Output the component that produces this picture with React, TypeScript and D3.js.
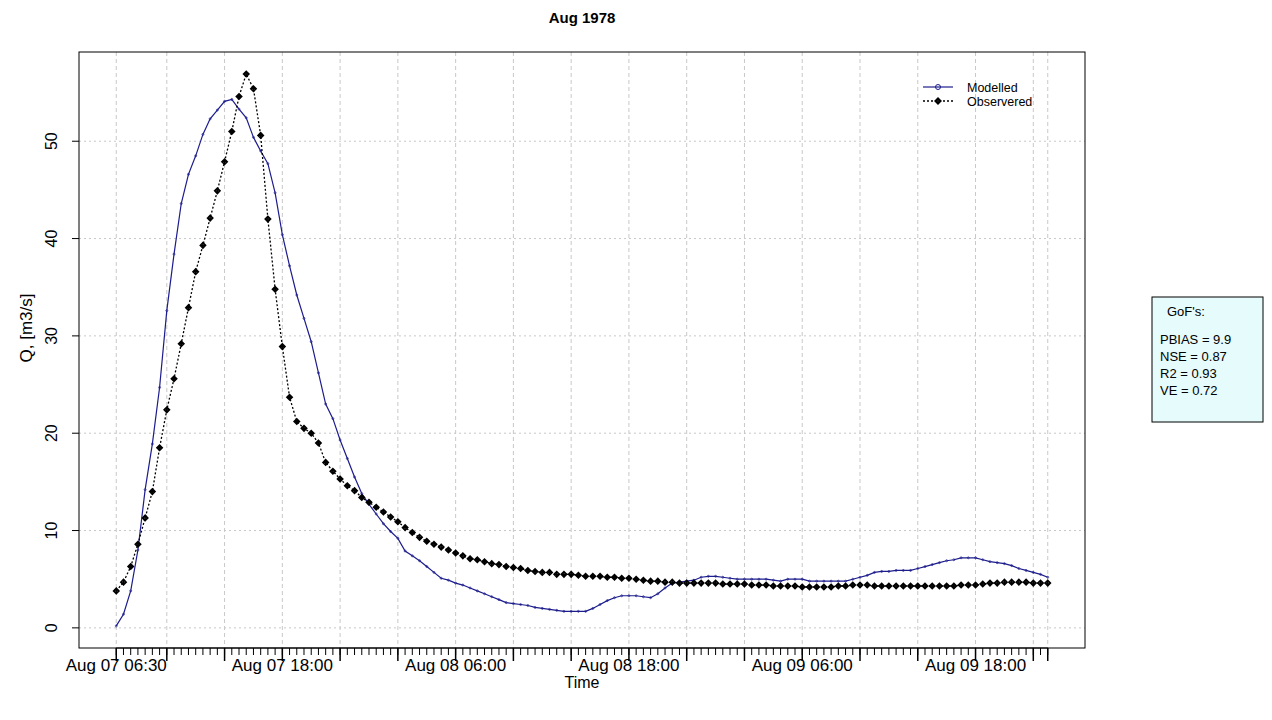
import React from "react";
import * as d3 from "d3";

// ---- data (30-min steps starting Aug 07 1978 06:30) ----
const startLabel = "1978-08-07T06:30:00Z";
const firstRegularTick = "1978-08-07T10:00:00Z";
const stepMinutes = 30;
const majorStepHours = 4;
const titleText = "Aug 1978";
const seriesNames = ["Modelled", "Observered"];
const gofLines = ["PBIAS = 9.9", "NSE = 0.87", "R2 = 0.93", "VE = 0.72"];
const yTicks = [0, 10, 20, 30, 40, 50];

const modelled = [
  0.2, 1.4, 3.8, 8.0, 14.2, 18.9, 24.7, 32.6, 38.4, 43.6,
  46.6, 48.5, 50.7, 52.3, 53.2, 54.1, 54.3, 53.3, 52.4, 50.4,
  49.0, 47.7, 44.7, 40.4, 37.2, 34.2, 31.8, 29.4, 26.2, 23.0,
  21.5, 19.3, 17.4, 15.5, 13.8, 12.7, 11.7, 10.7, 9.9, 9.2,
  7.9, 7.4, 6.9, 6.3, 5.7, 5.1, 4.9, 4.6, 4.4, 4.1,
  3.8, 3.5, 3.2, 2.9, 2.6, 2.5, 2.4, 2.3, 2.1, 2.0,
  1.9, 1.8, 1.7, 1.7, 1.7, 1.7, 2.0, 2.4, 2.8, 3.1,
  3.3, 3.3, 3.3, 3.2, 3.1, 3.5, 4.1, 4.6, 4.7, 4.8,
  4.9, 5.2, 5.3, 5.3, 5.2, 5.1, 5.0, 5.0, 5.0, 5.0,
  5.0, 4.9, 4.8, 5.0, 5.0, 5.0, 4.8, 4.8, 4.8, 4.8,
  4.8, 4.8, 5.0, 5.2, 5.4, 5.7, 5.8, 5.8, 5.9, 5.9,
  5.9, 6.1, 6.3, 6.5, 6.7, 6.9, 7.0, 7.2, 7.2, 7.2,
  7.0, 6.8, 6.7, 6.6, 6.4, 6.1, 5.9, 5.7, 5.5, 5.2,
];

const observed = [
  3.8, 4.7, 6.3, 8.6, 11.3, 14.0, 18.5, 22.4, 25.6, 29.2,
  32.9, 36.6, 39.3, 42.1, 44.9, 47.9, 51.0, 54.6, 56.9, 55.4,
  50.6, 42.0, 34.8, 28.9, 23.7, 21.2, 20.5, 20.0, 19.0, 17.0,
  16.1, 15.3, 14.6, 14.1, 13.4, 12.9, 12.4, 11.9, 11.4, 10.9,
  10.3, 9.8, 9.3, 8.9, 8.6, 8.3, 8.0, 7.7, 7.4, 7.1,
  7.0, 6.8, 6.6, 6.5, 6.3, 6.2, 6.1, 5.9, 5.8, 5.7,
  5.7, 5.5, 5.5, 5.5, 5.4, 5.3, 5.3, 5.3, 5.2, 5.2,
  5.1, 5.1, 5.0, 4.9, 4.8, 4.8, 4.7, 4.7, 4.6, 4.6,
  4.6, 4.6, 4.6, 4.6, 4.5, 4.5, 4.5, 4.5, 4.4, 4.4,
  4.4, 4.3, 4.3, 4.3, 4.3, 4.2, 4.2, 4.2, 4.2, 4.2,
  4.3, 4.3, 4.4, 4.4, 4.4, 4.3, 4.3, 4.3, 4.3, 4.3,
  4.3, 4.3, 4.3, 4.3, 4.3, 4.3, 4.3, 4.4, 4.4, 4.4,
  4.5, 4.6, 4.6, 4.7, 4.7, 4.7, 4.7, 4.6, 4.6, 4.6,
];

const FONT = "'Liberation Sans', Arial, sans-serif";
const W = 1272;
const H = 720;
const plot = { left: 79, right: 1085, top: 52, bottom: 648 };

export default function App() {
  const start = new Date(startLabel);
  const times = modelled.map((_, i) => new Date(start.getTime() + i * stepMinutes * 60000));
  const end = times[times.length - 1];

  // R style: extend data range by 4% on each side
  const tSpan = end.getTime() - start.getTime();
  const x = d3
    .scaleUtc()
    .domain([new Date(start.getTime() - 0.04 * tSpan), new Date(end.getTime() + 0.04 * tSpan)])
    .range([plot.left, plot.right]);

  const all = modelled.concat(observed);
  const vmin = d3.min(all) as number;
  const vmax = d3.max(all) as number;
  const ext = (vmax - vmin) * 0.04;
  const y = d3.scaleLinear().domain([vmin - ext, vmax + ext]).range([plot.bottom, plot.top]);

  // Major ticks: start, every 4 hours from 10:00, then the final time step
  const majors: Date[] = [start];
  const step = majorStepHours * 3600000;
  for (let t = new Date(firstRegularTick).getTime(); t <= end.getTime(); t += step) {
    majors.push(new Date(t));
  }
  if (majors[majors.length - 1].getTime() !== end.getTime()) majors.push(end);
  const minors = times;
  const fmt = d3.utcFormat("%b %d %H:%M");
  const labelled = majors.filter(
    (d, i) => i === 0 || (d.getUTCMinutes() === 0 && (d.getUTCHours() === 6 || d.getUTCHours() === 18))
  );

  const line = d3
    .line<number>()
    .x((_, i) => x(times[i]))
    .y((d) => y(d));

  const blue = "#1c1c8c";
  const diamond = (cx: number, cy: number, r: number) =>
    `M${cx - r},${cy}L${cx},${cy - r}L${cx + r},${cy}L${cx},${cy + r}Z M${cx - r},${cy}L${cx + r},${cy} M${cx},${cy - r}L${cx},${cy + r}`;

  const gridColor = "#c8c8c8";
  const legendX = 923;
  const legendY = 87;

  return (
    <svg width={W} height={H} style={{ display: "block", position: "absolute", left: 0, top: 0 }} fontFamily={FONT}>
      <rect x={0} y={0} width={W} height={H} fill="#ffffff" />
      {/* title */}
      <text x={(plot.left + plot.right) / 2} y={23} textAnchor="middle" fontWeight="bold" fontSize={15}>
        {titleText}
      </text>

      {/* grid */}
      {majors.map((d, i) => (
        <line key={"vg" + i} x1={x(d)} x2={x(d)} y1={plot.top} y2={plot.bottom} stroke={gridColor} strokeDasharray="4,3" strokeWidth={1} />
      ))}
      {yTicks.map((v) => (
        <line key={"hg" + v} x1={plot.left} x2={plot.right} y1={y(v)} y2={y(v)} stroke={gridColor} strokeDasharray="2,3" strokeWidth={1} />
      ))}

      {/* series */}
      <path d={line(modelled) || ""} fill="none" stroke={blue} strokeWidth={1.2} />
      {modelled.map((v, i) => (
        <circle key={"mc" + i} cx={x(times[i])} cy={y(v)} r={1} fill="none" stroke={blue} strokeWidth={0.7} />
      ))}
      <path d={line(observed) || ""} fill="none" stroke="#000" strokeWidth={1.3} strokeDasharray="2,2" />
      {observed.map((v, i) => (
        <path key={"om" + i} d={diamond(x(times[i]), y(v), 2.8)} fill="none" stroke="#000" strokeWidth={1.4} />
      ))}

      {/* box */}
      <rect x={plot.left} y={plot.top} width={plot.right - plot.left} height={plot.bottom - plot.top} fill="none" stroke="#000" strokeWidth={1} />

      {/* x axis */}
      <line x1={x(majors[0])} x2={x(majors[majors.length - 1])} y1={plot.bottom} y2={plot.bottom} stroke="#000" />
      {minors.map((d, i) => (
        <line key={"mn" + i} x1={x(d)} x2={x(d)} y1={plot.bottom} y2={plot.bottom + 7} stroke="#000" strokeWidth={1} />
      ))}
      {majors.map((d, i) => (
        <line key={"mj" + i} x1={x(d)} x2={x(d)} y1={plot.bottom} y2={plot.bottom + 13} stroke="#000" strokeWidth={1.5} />
      ))}
      {labelled.map((d, i) => (
        <text key={"xl" + i} x={x(d)} y={671} textAnchor="middle" fontSize={17}>
          {fmt(d)}
        </text>
      ))}
      <text x={(plot.left + plot.right) / 2} y={688} textAnchor="middle" fontSize={16}>
        Time
      </text>

      {/* y axis */}
      {yTicks.map((v) => (
        <g key={"yt" + v}>
          <line x1={plot.left - 7} x2={plot.left} y1={y(v)} y2={y(v)} stroke="#000" />
          <text transform={`translate(57,${y(v)}) rotate(-90)`} textAnchor="middle" fontSize={16}>
            {v}
          </text>
        </g>
      ))}
      <text transform={`translate(32,328) rotate(-90)`} textAnchor="middle" fontSize={17}>
        Q, [m3/s]
      </text>

      {/* legend */}
      <line x1={legendX} x2={legendX + 30} y1={legendY} y2={legendY} stroke={blue} strokeWidth={1.2} />
      <circle cx={legendX + 15} cy={legendY} r={2.5} fill="none" stroke={blue} strokeWidth={1} />
      <text x={legendX + 44} y={legendY + 4.5} fontSize={12.5}>
        {seriesNames[0]}
      </text>
      <line x1={legendX} x2={legendX + 30} y1={legendY + 14} y2={legendY + 14} stroke="#000" strokeWidth={1.3} strokeDasharray="2,2" />
      <path d={diamond(legendX + 15, legendY + 14, 3)} fill="none" stroke="#000" strokeWidth={1.4} />
      <text x={legendX + 44} y={legendY + 18.5} fontSize={12.5}>
        {seriesNames[1]}
      </text>

      {/* GoF box */}
      <rect x={1152} y={297} width={111} height={125} fill="#e6fbfb" stroke="#000" strokeWidth={1} />
      <text x={1167} y={316} fontSize={13}>
        GoF's:
      </text>
      {gofLines.map((s, i) => (
        <text key={"gof" + i} x={1160} y={344 + i * 17} fontSize={13}>
          {s}
        </text>
      ))}
    </svg>
  );
}
